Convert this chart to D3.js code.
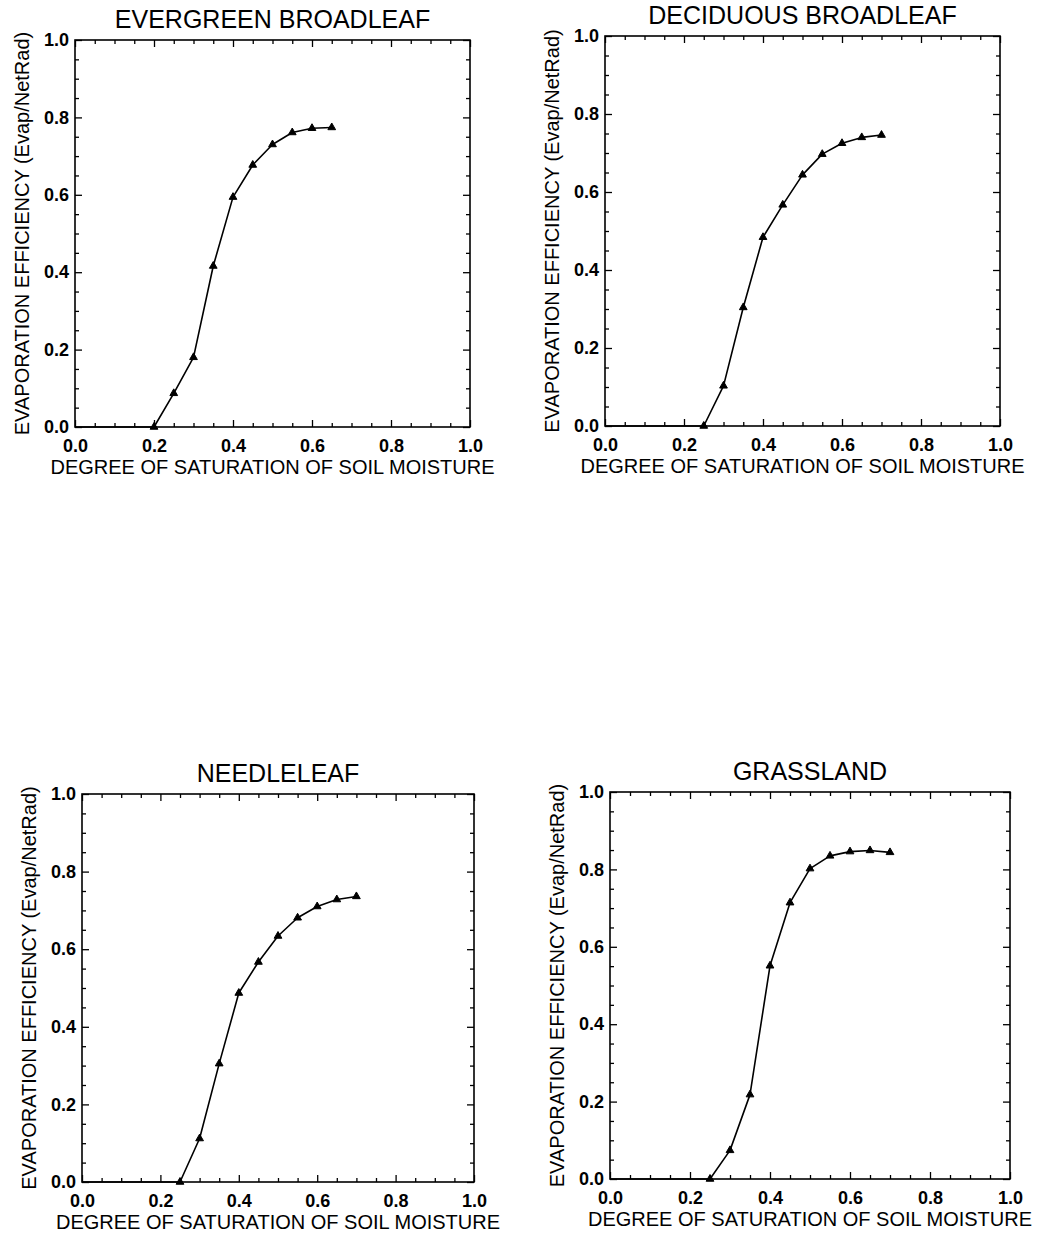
<!DOCTYPE html>
<html>
<head>
<meta charset="utf-8">
<script src="https://cdn.jsdelivr.net/npm/d3@7"></script>
<style>
  html, body { margin: 0; padding: 0; background: #fff; }
  svg { display: block; }
</style>
</head>
<body>
<svg id="chart" width="1047" height="1239"></svg>
<script>
// ---------------- DATA ----------------
const panelTitles = ["EVERGREEN BROADLEAF", "DECIDUOUS BROADLEAF", "NEEDLELEAF", "GRASSLAND"];
const xTitle = "DEGREE OF SATURATION OF SOIL MOISTURE";
const yTitle = "EVAPORATION EFFICIENCY (Evap/NetRad)";
const tickLabels = ["0.0", "0.2", "0.4", "0.6", "0.8", "1.0"];

// degree of saturation (x) sampled every 0.05
const saturation = [0.00, 0.05, 0.10, 0.15, 0.20, 0.25, 0.30, 0.35, 0.40, 0.45, 0.50, 0.55, 0.60, 0.65, 0.70];

const evergreenEff = [0, 0, 0, 0, 0, 0.087, 0.180, 0.416, 0.594, 0.677, 0.730, 0.761, 0.772, 0.774];
const deciduousEff = [0, 0, 0, 0, 0, 0, 0.103, 0.304, 0.484, 0.567, 0.644, 0.697, 0.725, 0.740, 0.746];
const needleleafEff = [0, 0, 0, 0, 0, 0, 0.112, 0.305, 0.487, 0.567, 0.634, 0.681, 0.710, 0.728, 0.736];
const grasslandEff = [0, 0, 0, 0, 0, 0, 0.074, 0.218, 0.551, 0.714, 0.802, 0.835, 0.846, 0.849, 0.844];

const seriesList = [evergreenEff, deciduousEff, needleleafEff, grasslandEff];

// ---------------- LAYOUT ----------------
const layout = [
  { left: 75,  top: 40,  right: 470,  bottom: 427 },
  { left: 605, top: 36,  right: 1000, bottom: 426 },
  { left: 82,  top: 794, right: 474,  bottom: 1182 },
  { left: 610, top: 792, right: 1010, bottom: 1179 }
];

const FONT = "'Liberation Sans', Arial, Helvetica, sans-serif";
const majorLen = 7, minorLen = 4;

const svg = d3.select("#chart");

const majorVals = d3.range(0, 6).map(i => i * 0.2);
const minorVals = d3.range(0, 21).map(i => i * 0.05).filter(v => Math.abs(v * 5 - Math.round(v * 5)) > 1e-6);

seriesList.forEach((ys, idx) => {
  const L = layout[idx];
  const x = d3.scaleLinear().domain([0, 1]).range([L.left, L.right]);
  const y = d3.scaleLinear().domain([0, 1]).range([L.bottom, L.top]);
  const g = svg.append("g");

  const fmt = d => tickLabels[Math.round(d * 5)];

  // bottom axis: major with labels
  const bottomMajor = g.append("g").attr("transform", `translate(0,${L.bottom})`)
    .call(d3.axisBottom(x).tickValues(majorVals).tickSize(-majorLen).tickPadding(12).tickFormat(fmt));
  const bottomMinor = g.append("g").attr("transform", `translate(0,${L.bottom})`)
    .call(d3.axisBottom(x).tickValues(minorVals).tickSize(-minorLen).tickFormat(""));
  // top axis
  const topMajor = g.append("g").attr("transform", `translate(0,${L.top})`)
    .call(d3.axisTop(x).tickValues(majorVals).tickSize(-majorLen).tickFormat(""));
  const topMinor = g.append("g").attr("transform", `translate(0,${L.top})`)
    .call(d3.axisTop(x).tickValues(minorVals).tickSize(-minorLen).tickFormat(""));
  // left axis
  const leftMajor = g.append("g").attr("transform", `translate(${L.left},0)`)
    .call(d3.axisLeft(y).tickValues(majorVals).tickSize(-majorLen).tickPadding(6).tickFormat(fmt));
  const leftMinor = g.append("g").attr("transform", `translate(${L.left},0)`)
    .call(d3.axisLeft(y).tickValues(minorVals).tickSize(-minorLen).tickFormat(""));
  // right axis
  const rightMajor = g.append("g").attr("transform", `translate(${L.right},0)`)
    .call(d3.axisRight(y).tickValues(majorVals).tickSize(-majorLen).tickFormat(""));
  const rightMinor = g.append("g").attr("transform", `translate(${L.right},0)`)
    .call(d3.axisRight(y).tickValues(minorVals).tickSize(-minorLen).tickFormat(""));

  [bottomMajor, bottomMinor, topMajor, topMinor, leftMajor, leftMinor, rightMajor, rightMinor].forEach(a => {
    a.select(".domain").remove();
    a.selectAll(".tick line").attr("stroke", "#000").attr("stroke-width", 1.3);
    a.selectAll(".tick text")
      .attr("fill", "#000")
      .attr("font-family", FONT)
      .attr("font-size", 18)
      .attr("font-weight", "bold");
  });

  // frame
  g.append("rect")
    .attr("x", L.left).attr("y", L.top)
    .attr("width", L.right - L.left).attr("height", L.bottom - L.top)
    .attr("fill", "none").attr("stroke", "#000").attr("stroke-width", 1.6);

  // data
  const pts = ys.map((v, i) => ({ x: saturation[i], y: v }));
  const line = d3.line().x(d => x(d.x)).y(d => y(d.y));
  g.append("path").datum(pts)
    .attr("d", line)
    .attr("fill", "none").attr("stroke", "#000").attr("stroke-width", 1.6)
    .attr("stroke-linejoin", "round");

  const markerPts = pts.filter((d, i) => d.y > 0 || (i + 1 < pts.length && pts[i + 1].y > 0));
  g.selectAll("path.mk").data(markerPts).enter().append("path")
    .attr("class", "mk")
    .attr("d", d3.symbol(d3.symbolTriangle).size(26))
    .attr("transform", d => `translate(${x(d.x)},${y(d.y)})`)
    .attr("fill", "#000").attr("stroke", "#000").attr("stroke-width", 1);

  // title
  g.append("text")
    .attr("x", (L.left + L.right) / 2).attr("y", L.top - 12)
    .attr("text-anchor", "middle")
    .attr("font-family", FONT).attr("font-size", 25)
    .text(panelTitles[idx]);

  // x-axis title
  g.append("text")
    .attr("x", (L.left + L.right) / 2).attr("y", L.bottom + 47)
    .attr("text-anchor", "middle")
    .attr("font-family", FONT).attr("font-size", 20)
    .text(xTitle);

  // y-axis title
  g.append("text")
    .attr("transform", `translate(${L.left - 46},${(L.top + L.bottom) / 2}) rotate(-90)`)
    .attr("text-anchor", "middle")
    .attr("font-family", FONT).attr("font-size", 20)
    .text(yTitle);
});
</script>
</body>
</html>
